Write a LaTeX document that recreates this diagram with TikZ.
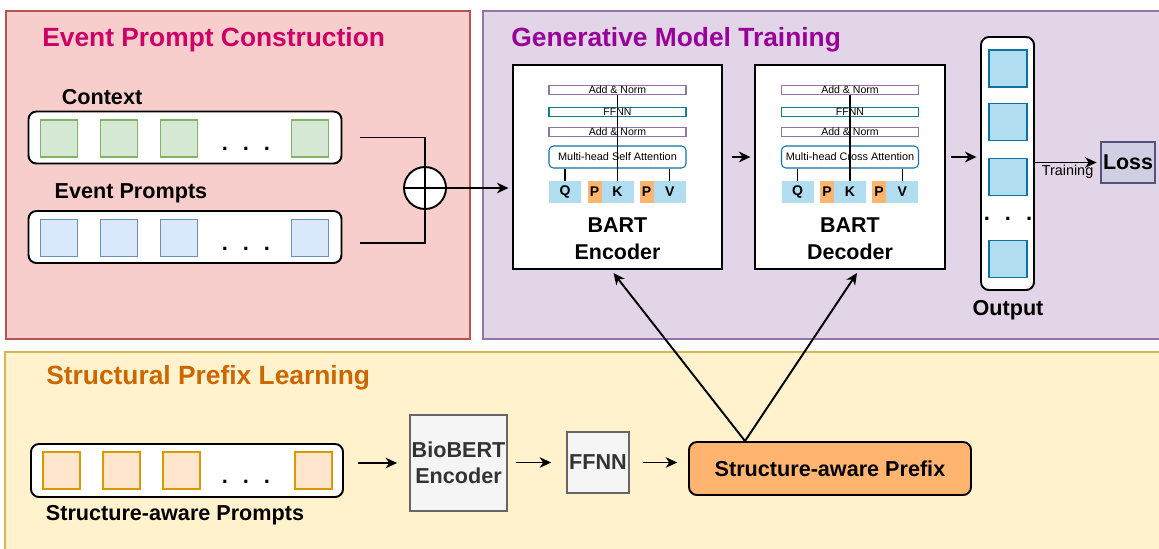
\documentclass[tikz,border=0pt]{standalone}
\usepackage{fontspec}
\setmainfont{Liberation Sans}
\usepackage{tikz}
\usetikzlibrary{arrows.meta,calc}
\newlength\px
\setlength\px{0.02cm}
\definecolor{epcfill}{HTML}{F8CECC}
\definecolor{epcdraw}{HTML}{B85450}
\definecolor{gmtfill}{HTML}{E1D5E7}
\definecolor{gmtdraw}{HTML}{9673A6}
\definecolor{splfill}{HTML}{FFF2CC}
\definecolor{spldraw}{HTML}{D6B656}
\definecolor{epctext}{HTML}{CC0066}
\definecolor{gmttext}{HTML}{990099}
\definecolor{spltext}{HTML}{CC6600}
\definecolor{greenfill}{HTML}{D5E8D4}
\definecolor{greendraw}{HTML}{82B366}
\definecolor{bluefill}{HTML}{DAE8FC}
\definecolor{bluedraw}{HTML}{6C8EBF}
\definecolor{orangefill}{HTML}{FFE6CC}
\definecolor{orangedraw}{HTML}{D79B00}
\definecolor{qkvfill}{HTML}{B1DDF0}
\definecolor{qkvdraw}{HTML}{10739E}
\definecolor{pfill}{HTML}{FFB570}
\definecolor{normdraw}{HTML}{9673A6}
\definecolor{ffnndraw}{HTML}{0E8088}
\definecolor{lossfill}{HTML}{D0CEE2}
\definecolor{lossdraw}{HTML}{56517E}
\definecolor{grayfill}{HTML}{F5F5F5}
\definecolor{graydraw}{HTML}{666666}
\definecolor{graytext}{HTML}{333333}
\tikzset{
    region/.style    = {line width=0.6pt},
    title/.style     = {anchor=west, inner sep=0pt,
                        font=\fontsize{15}{18}\selectfont\bfseries},
    tag/.style       = {inner sep=0pt, font=\fontsize{12.3}{14}\selectfont\bfseries},
    seqbox/.style    = {draw, fill=white, rounded corners=4.5pt, line width=1.1pt,
                        minimum width=313*\px, minimum height=52*\px, inner sep=0pt},
    cell/.style      = {draw, minimum size=37*\px, inner sep=0pt, line width=0.6pt},
    greencell/.style = {cell, fill=greenfill, draw=greendraw},
    bluecell/.style  = {cell, fill=bluefill, draw=bluedraw},
    orangecell/.style= {cell, fill=orangefill, draw=orangedraw},
    outcell/.style   = {cell, fill=qkvfill, draw=qkvdraw, minimum width=38*\px},
    dots/.style      = {inner sep=0pt, font=\fontsize{12.5}{12}\selectfont\bfseries},
    bart/.style      = {draw, fill=white, line width=1.2pt, minimum height=204*\px},
    bar/.style       = {draw, fill=white, line width=0.6pt, inner sep=0pt,
                        minimum width=137*\px, minimum height=9.5*\px,
                        font=\fontsize{6}{6}\selectfont},
    normbar/.style   = {bar, draw=normdraw},
    ffnnbar/.style   = {bar, draw=ffnndraw},
    attn/.style      = {bar, draw=qkvdraw, rounded corners=2.5pt, minimum height=22*\px,
                        font=\fontsize{6.2}{7}\selectfont},
    qkv/.style       = {fill=qkvfill, inner sep=0pt, minimum width=32*\px,
                        minimum height=22*\px, font=\fontsize{8}{8}\selectfont\bfseries},
    pcell/.style     = {qkv, fill=pfill, minimum width=14*\px},
    graybox/.style   = {draw=graydraw, fill=grayfill, line width=1.1pt, text=graytext,
                        inner sep=0pt, align=center,
                        font=\fontsize{12.3}{15}\selectfont\bfseries},
    arrow/.style     = {-{Stealth[length=6.5pt,width=6pt,inset=2pt]}, line width=1.1pt},
}

\begin{document}
\begin{tikzpicture}[x=0.02cm, y=-0.02cm]
    \useasboundingbox (0,0) rectangle (1159,548);

    % Three regions
    \filldraw[region, fill=epcfill, draw=epcdraw] (6,11) rectangle (470,339);
    \filldraw[region, fill=gmtfill, draw=gmtdraw] (483,11) rectangle (1165,339);
    \filldraw[region, fill=splfill, draw=spldraw] (5,352) rectangle (1165,555);
    \node[title, text=epctext] (epctitle) at (42,40)  {Event Prompt Construction};
    \node[title, text=gmttext] (gmttitle) at (511,40) {Generative Model Training};
    \node[title, text=spltext] (spltitle) at (46,378) {Structural Prefix Learning};

    % Context and event prompts
    \node[tag] (ctxlab) at (102,97) {Context};
    \node[seqbox] (ctx) at (185,137.5) {};
    \foreach \cx [count=\i from 1] in {59,119,179,310} {
        \node[greencell] (ctx-\i) at (\cx,138.5) {};
    }
    \node[dots] (ctxdots) at (246,149) {.\hspace{8.5pt}.\hspace{8.5pt}.};

    \node[tag] (eplab) at (131,193) {Event Prompts};
    \node[seqbox] (ep) at (185,237) {};
    \foreach \cx [count=\i from 1] in {59,119,179,310} {
        \node[bluecell] (ep-\i) at (\cx,238) {};
    }
    \node[dots] (epdots) at (246,249) {.\hspace{8.5pt}.\hspace{8.5pt}.};

    % Concatenation
    \node[draw, circle, fill=white, line width=1.1pt, minimum size=42*\px, inner sep=0pt] (plus) at (425,188) {};
    \draw[line width=1.1pt] (plus.north) -- (plus.south) (plus.west) -- (plus.east);
    \draw[line width=1.1pt] ($(ctx.east)+(18,0)$) -| (plus.north);
    \draw[line width=1.1pt] ($(ep.east)+(18,6)$) -| (plus.south);

    % BART encoder and decoder
    \foreach \blk/\cx/\bw/\kind/\bname in {enc/617.5/209/Self/Encoder, dec/850/190/Cross/Decoder} {
        \node[bart, minimum width=\bw*\px] (\blk) at (\cx,167) {};
        \node[normbar] (\blk-an1) at (\cx,90)  {Add \& Norm};
        \node[ffnnbar] (\blk-ff)  at (\cx,112) {FFNN};
        \node[normbar] (\blk-an2) at (\cx,132) {Add \& Norm};
        \node[attn]    (\blk-att) at (\cx,157) {Multi-head \kind{} Attention};
        \node[qkv]   (\blk-q)  at (\cx-52.5,192) {Q};
        \node[pcell] (\blk-p1) at (\cx-23,192)   {P};
        \node[qkv]   (\blk-k)  at (\cx,192)      {K};
        \node[pcell] (\blk-p2) at (\cx+29,192)   {P};
        \node[qkv]   (\blk-v)  at (\cx+52.25,192) {V};
        \draw[line width=0.6pt] (\blk-an1.south) -- (\blk-k.north);
        \draw[line width=0.6pt] (\blk-att.south -| \blk-q) -- (\blk-q.north);
        \draw[line width=0.6pt] (\blk-att.south -| \blk-v) -- (\blk-v.north);
        \node[tag, align=center, font=\fontsize{12.2}{15.3}\selectfont\bfseries] (\blk-lab) at (\cx,239) {BART\\\bname};
    }
    \draw[arrow, shorten >=2pt] (plus.east) -- (plus.east -| enc.west);
    \draw[arrow, shorten <=5pt, shorten >=2pt] ($(enc.east)+(0,-10)$) -- ($(dec.west)+(0,-10)$);

    % Output and loss
    \node[draw, fill=white, rounded corners=4.5pt, line width=1.1pt, minimum width=53*\px,
          minimum height=253*\px, inner sep=0pt] (out) at (1007.5,163.5) {};
    \foreach \cy [count=\i from 1] in {68.5,122,177,259} {
        \node[outcell] (out-\i) at (1008,\cy) {};
    }
    \node[dots] (outdots) at (1008,219) {.\hspace{8.5pt}.\hspace{8.5pt}.};
    \node[tag] (outlab) at (1008,310) {Output};
    \coordinate (decout) at ($(dec.east)+(0,-10)$);
    \draw[arrow, shorten <=3pt, shorten >=2pt] (decout) -- (decout -| out.west);
    \node[draw=lossdraw, fill=lossfill, line width=1.1pt, minimum width=54*\px, minimum height=41*\px,
          inner sep=0pt, font=\fontsize{12.2}{14}\selectfont\bfseries] (loss) at (1128,162.5) {Loss};
    \draw[arrow, shorten >=2pt] (out.east |- loss.west) -- node[below=1pt, inner sep=0pt,
          font=\fontsize{8.2}{9}\selectfont] (trainlab) {Training} (loss.west);

    % Structural prefix learning
    \node[seqbox, minimum width=312*\px, minimum height=53*\px] (sap) at (187,470.5) {};
    \foreach \cx [count=\i from 1] in {61.5,121.5,181.5,313.5} {
        \node[orangecell] (sap-\i) at (\cx,470.5) {};
    }
    \node[dots] (sapdots) at (246,482) {.\hspace{8.5pt}.\hspace{8.5pt}.};
    \node[tag] (saplab) at (175,515) {Structure-aware Prompts};

    \node[graybox, minimum width=97*\px, minimum height=96*\px] (bio) at (458.5,463) {BioBERT\\Encoder};
    \node[graybox, minimum width=62*\px, minimum height=61*\px] (ffnn) at (598,462.5) {FFNN};
    \node[draw, fill=pfill, rounded corners=4.5pt, line width=1.1pt, minimum width=282*\px,
          minimum height=53*\px, font=\fontsize{12.3}{14}\selectfont\bfseries] (prefix) at (830,468.5) {Structure-aware Prefix};

    \draw[arrow, shorten <=8pt, shorten >=6.8pt] (sap.east |- bio.west) -- (bio.west);
    \draw[arrow, shorten <=4.5pt, shorten >=8.5pt] (bio.east |- ffnn.west) -- (ffnn.west);
    \draw[arrow, shorten <=7.4pt, shorten >=6.2pt] (ffnn.east) -- (ffnn.east -| prefix.west);

    % Prefix into encoder and decoder
    \draw[arrow] ($(prefix.north)+(-85,0)$) -- ($(enc.south)+(-4,3)$);
    \draw[arrow] ($(prefix.north)+(-85,0)$) -- ($(dec.south)+(7,3)$);
\end{tikzpicture}
\end{document}
